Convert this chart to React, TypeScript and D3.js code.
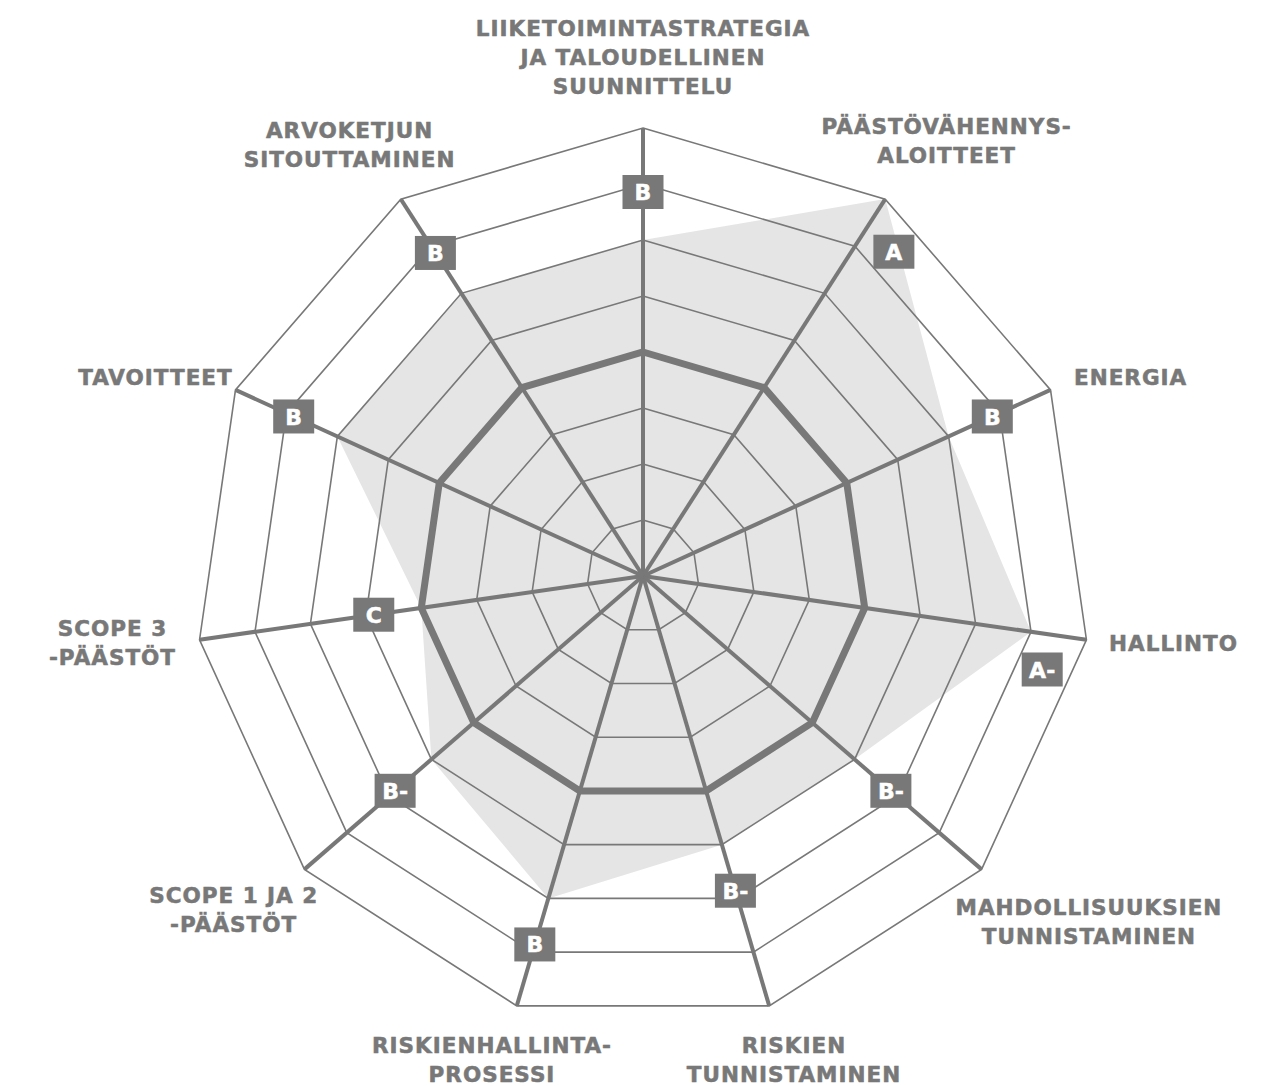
import React, { useEffect, useRef } from "react";
import * as d3 from "d3";

// ---- data ----
const categories: string[][] = [
  ["LIIKETOIMINTASTRATEGIA", "JA TALOUDELLINEN", "SUUNNITTELU"],
  ["PÄÄSTÖVÄHENNYS-", "ALOITTEET"],
  ["ENERGIA"],
  ["HALLINTO"],
  ["MAHDOLLISUUKSIEN", "TUNNISTAMINEN"],
  ["RISKIEN", "TUNNISTAMINEN"],
  ["RISKIENHALLINTA-", "PROSESSI"],
  ["SCOPE 1 JA 2", "-PÄÄSTÖT"],
  ["SCOPE 3", "-PÄÄSTÖT"],
  ["TAVOITTEET"],
  ["ARVOKETJUN", "SITOUTTAMINEN"],
];
const grades = ["B", "A", "B", "A-", "B-", "B-", "B", "B-", "C", "B", "B"];
const scores = [6, 8, 6, 7, 5, 5, 6, 5, 4, 6, 6];
const benchmark = [4, 4, 4, 4, 4, 4, 4, 4, 4, 4, 4];
const ringLevels = [1, 2, 3, 4, 5, 6, 7, 8];
const maxLevel = 8;

// ---- layout / style ----
const W = 1276;
const H = 1086;
const CX = 643;
const CY = 576;
const R = 448;
const GRAY = "#787878";
const FILL = "#e5e5e5";
const FONT = "'DejaVu Sans', 'Liberation Sans', sans-serif";
const FS = 21.5;
const CAP = 0.729 * FS;
const LINE_H = 29;

export default function App() {
  const ref = useRef<SVGSVGElement>(null);

  useEffect(() => {
    const svg = d3.select(ref.current);
    svg.selectAll("*").remove();
    const n = categories.length;
    const angle = d3.scaleLinear().domain([0, n]).range([0, 2 * Math.PI]);
    const r = d3.scaleLinear().domain([0, maxLevel]).range([0, R]);
    const g = svg.append("g").attr("transform", `translate(${CX},${CY})`);

    const radial = d3
      .lineRadial<number>()
      .angle((_, i) => angle(i))
      .radius((d) => r(d))
      .curve(d3.curveLinearClosed);

    // score area
    g.append("path").attr("d", radial(scores) as string).attr("fill", FILL);

    // rings
    g.selectAll("path.ring")
      .data(ringLevels)
      .enter()
      .append("path")
      .attr("class", "ring")
      .attr("d", (l) => radial(categories.map(() => l)) as string)
      .attr("fill", "none")
      .attr("stroke", GRAY)
      .attr("stroke-width", 1.6)
      .attr("stroke-linejoin", "miter");

    // spokes
    g.selectAll("line.spoke")
      .data(categories)
      .enter()
      .append("line")
      .attr("class", "spoke")
      .attr("x1", 0)
      .attr("y1", 0)
      .attr("x2", (_, i) => d3.pointRadial(angle(i), r(maxLevel))[0])
      .attr("y2", (_, i) => d3.pointRadial(angle(i), r(maxLevel))[1])
      .attr("stroke", GRAY)
      .attr("stroke-width", 4);

    // benchmark ring
    g.append("path")
      .attr("d", radial(benchmark) as string)
      .attr("fill", "none")
      .attr("stroke", GRAY)
      .attr("stroke-width", 7)
      .attr("stroke-linejoin", "miter");

    // grade boxes
    const boxW = 41;
    const boxH = 34;
    grades.forEach((gr, i) => {
      let rr = r(scores[i]) + 48;
      let a = angle(i);
      if (rr > 410) {
        rr = 410;
        a += (5 * Math.PI) / 180;
      }
      const [x, y] = d3.pointRadial(a, rr);
      g.append("rect")
        .attr("x", x - boxW / 2)
        .attr("y", y - boxH / 2)
        .attr("width", boxW)
        .attr("height", boxH)
        .attr("fill", GRAY);
      g.append("text")
        .attr("x", x)
        .attr("y", y + (0.729 * 22) / 2)
        .attr("text-anchor", "middle")
        .attr("font-family", FONT)
        .attr("font-weight", "bold")
        .attr("font-size", 22)
        .attr("fill", "#ffffff")
        .attr("stroke", "#ffffff")
        .attr("stroke-width", 0.5)
        .text(gr);
    });

    // category labels
    const RX = 536;
    const RY = 519;
    const CLEAR = 450;
    categories.forEach((lines, i) => {
      const a = angle(i);
      const t = g
        .append("text")
        .attr("font-family", FONT)
        .attr("font-weight", "bold")
        .attr("font-size", FS)
        .attr("letter-spacing", "1px")
        .attr("fill", GRAY)
        .attr("stroke", GRAY)
        .attr("stroke-width", 0.55)
        .attr("text-anchor", "middle");
      const spans = lines.map((ln) => t.append("tspan").text(ln));
      let w = 0;
      spans.forEach((s) => {
        const len = (s.node() as SVGTextContentElement).getComputedTextLength();
        if (len > w) w = len;
      });
      const h = (lines.length - 1) * LINE_H + CAP;
      const c = Math.cos(a);
      const s = Math.sin(a);
      const P = c > 0 ? 1.09 : 1.05;
      let cx = s * RX;
      let cy = -Math.sign(c) * Math.pow(Math.abs(c), P) * RY;
      // keep inside the canvas bottom
      const maxBottom = H - CY - 4;
      if (cy + h / 2 > maxBottom) cy = maxBottom - h / 2;
      // push outward so the block clears the chart
      const dist = () => {
        const nx = Math.max(cx - w / 2, Math.min(0, cx + w / 2));
        const ny = Math.max(cy - h / 2, Math.min(0, cy + h / 2));
        return Math.hypot(nx, ny);
      };
      if (Math.abs(s) > 0.05) {
        let px = Math.sign(s);
        let py = -c * 0.5;
        const norm = Math.hypot(px, py);
        px /= norm;
        py /= norm;
        let guard = 0;
        while (dist() < CLEAR && guard < 400) {
          cx += px * 0.5;
          cy += py * 0.5;
          guard++;
        }
      }
      const firstBase = cy - h / 2 + CAP;
      spans.forEach((sp, k) => {
        sp.attr("x", cx).attr("y", firstBase + k * LINE_H);
      });
    });
  }, []);

  return (
    <svg
      ref={ref}
      width={W}
      height={H}
      style={{ position: "absolute", left: 0, top: 0, background: "#ffffff" }}
    />
  );
}
